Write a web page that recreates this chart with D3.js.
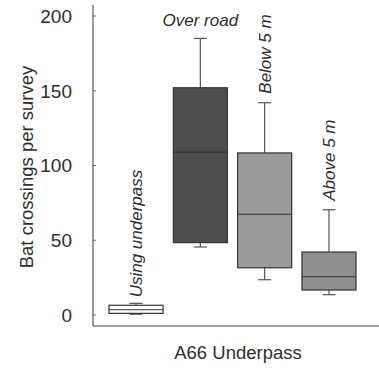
<!DOCTYPE html>
<html>
<head>
<meta charset="utf-8">
<script src="https://cdn.jsdelivr.net/npm/d3@7"></script>
<style>
  body { margin: 0; background: #fff; }
  text { font-family: "Liberation Sans", Arial, sans-serif; }
</style>
</head>
<body>
<script>
// box stats (bat crossings per survey)
const groups   = ["Using underpass", "Over road", "Below 5 m", "Above 5 m"];
const whiskLo  = [0.5, 45.5, 23.6, 13.6];
const q1       = [1.1, 48.4, 31.6, 16.7];
const median   = [3.5, 109, 67.4, 25.6];
const q3       = [6.5, 152, 108.4, 42.1];
const whiskHi  = [7.8, 185, 142, 70.4];
const fills    = ["#ffffff", "#4e4e4e", "#9b9b9b", "#8f8f8f"];
const yTicks   = [0, 50, 100, 150, 200];

const width = 379, height = 371;

let svg = d3.select("body")
  .append("svg")
  .attr("width", width)
  .attr("height", height);

let y = d3.scaleLinear()
  .domain([0, 200])
  .range([315, 16]);

let x = d3.scaleBand()
  .domain(groups)
  .range([109, 356])
  .paddingInner(0.16);

let axisCol = "#808080";

// axes frame (left + bottom)
svg.append("line")
  .attr("x1", 93).attr("x2", 93)
  .attr("y1", 5).attr("y2", 326)
  .attr("stroke", axisCol).attr("stroke-width", 1.6);
svg.append("line")
  .attr("x1", 93).attr("x2", width)
  .attr("y1", 326).attr("y2", 326)
  .attr("stroke", axisCol).attr("stroke-width", 1.6);

let yAxis = svg.append("g").attr("transform", "translate(93,0)");
yAxis.selectAll(".tick")
  .data(yTicks)
  .enter()
  .append("line")
  .attr("x1", 0).attr("x2", 3)
  .attr("y1", d => y(d)).attr("y2", d => y(d))
  .attr("stroke", "#666").attr("stroke-width", 1);
yAxis.selectAll(".lbl")
  .data(yTicks)
  .enter()
  .append("text")
  .attr("x", -21)
  .attr("y", d => y(d))
  .attr("dy", "0.36em")
  .attr("text-anchor", "end")
  .attr("font-size", 19)
  .attr("fill", "#2e2e2e")
  .text(d => d);

svg.append("text")
  .attr("transform", "translate(33,167) rotate(-90)")
  .attr("text-anchor", "middle")
  .attr("font-size", 18.5)
  .attr("fill", "#2e2e2e")
  .text("Bat crossings per survey");

svg.append("text")
  .attr("x", 238)
  .attr("y", 359)
  .attr("text-anchor", "middle")
  .attr("font-size", 18.5)
  .attr("fill", "#2e2e2e")
  .text("A66 Underpass");

// boxes
let boxes = svg.append("g").selectAll("g")
  .data(groups)
  .enter()
  .append("g");

let cx = d => x(d) + x.bandwidth() / 2;
let capW = 13;

boxes.append("line")
  .attr("x1", d => cx(d)).attr("x2", d => cx(d))
  .attr("y1", (d, i) => y(whiskHi[i])).attr("y2", (d, i) => y(q3[i]))
  .attr("stroke", "#555").attr("stroke-width", 1.2);
boxes.append("line")
  .attr("x1", d => cx(d)).attr("x2", d => cx(d))
  .attr("y1", (d, i) => y(q1[i])).attr("y2", (d, i) => y(whiskLo[i]))
  .attr("stroke", "#555").attr("stroke-width", 1.2);
boxes.append("line")
  .attr("x1", d => cx(d) - capW / 2).attr("x2", d => cx(d) + capW / 2)
  .attr("y1", (d, i) => y(whiskHi[i])).attr("y2", (d, i) => y(whiskHi[i]))
  .attr("stroke", "#555").attr("stroke-width", 1.2);
boxes.append("line")
  .attr("x1", d => cx(d) - capW / 2).attr("x2", d => cx(d) + capW / 2)
  .attr("y1", (d, i) => y(whiskLo[i])).attr("y2", (d, i) => y(whiskLo[i]))
  .attr("stroke", "#555").attr("stroke-width", 1.2);

boxes.append("rect")
  .attr("x", d => x(d))
  .attr("width", x.bandwidth())
  .attr("y", (d, i) => y(q3[i]))
  .attr("height", (d, i) => y(q1[i]) - y(q3[i]))
  .attr("fill", (d, i) => fills[i])
  .attr("stroke", "#333").attr("stroke-width", 1.2);

boxes.append("line")
  .attr("x1", d => x(d)).attr("x2", d => x(d) + x.bandwidth())
  .attr("y1", (d, i) => y(median[i])).attr("y2", (d, i) => y(median[i]))
  .attr("stroke", "#333").attr("stroke-width", 1.2);

// group labels: first/third/fourth rotated, "Over road" flat
let gap = [6, 0, 9, 9];
boxes.append("text")
  .attr("font-size", 17)
  .attr("font-style", "italic")
  .attr("fill", "#2e2e2e")
  .attr("transform", (d, i) => {
    if (i === 1) return "translate(" + cx(d) + ",26)";
    return "translate(" + (cx(d) + 6) + "," + (y(whiskHi[i]) - gap[i]) + ") rotate(-90)";
  })
  .attr("text-anchor", (d, i) => i === 1 ? "middle" : "start")
  .text(d => d);
</script>
</body>
</html>
